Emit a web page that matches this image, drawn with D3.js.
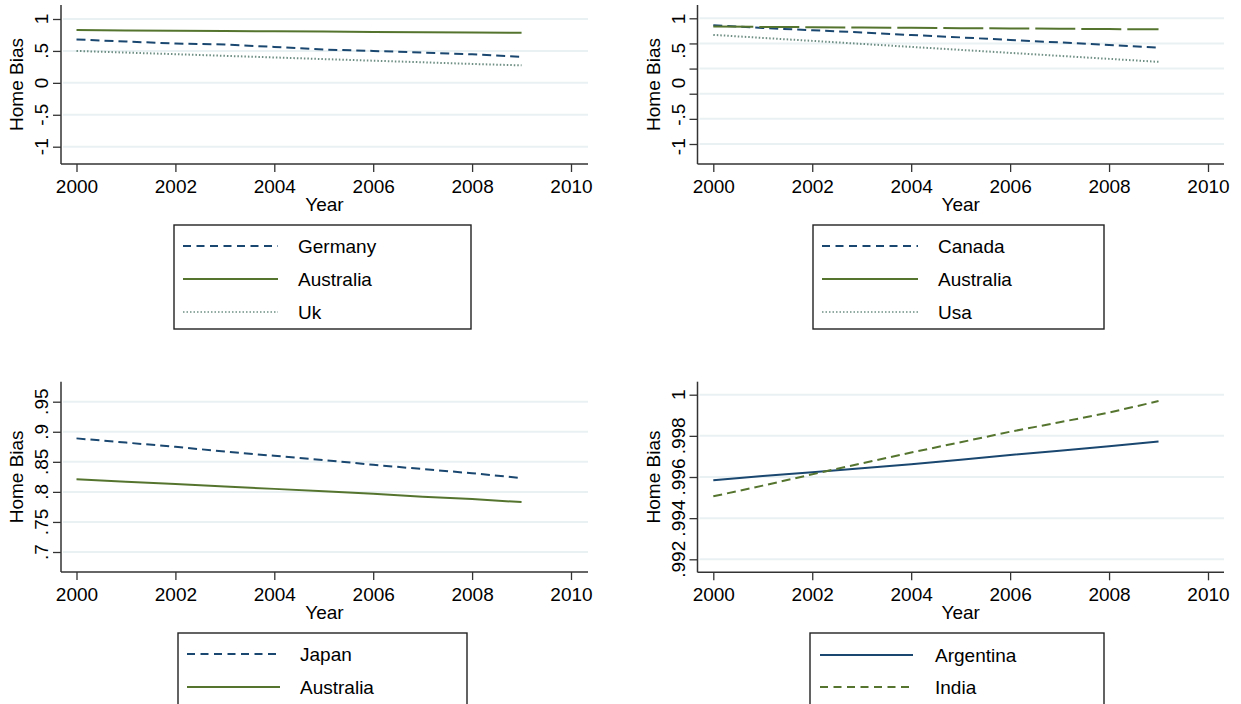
<!DOCTYPE html>
<html><head><meta charset="utf-8">
<script src="https://cdn.jsdelivr.net/npm/d3@7"></script>
<style>body{margin:0;background:#fff}svg{display:block}text{font-family:"Liberation Sans",Arial,sans-serif;fill:#000}</style>
</head><body><svg id="c" width="1241" height="704"></svg>
<script>
// ---------- data ----------
const years = [2000,2001,2002,2003,2004,2005,2006,2007,2008,2009];
const xTickValues = [2000,2002,2004,2006,2008,2010];
// panel 1
const germany    = [0.679,0.647,0.616,0.600,0.563,0.522,0.500,0.474,0.447,0.405];
const australia1 = [0.826,0.821,0.817,0.812,0.807,0.803,0.798,0.793,0.789,0.784];
const uk         = [0.500,0.474,0.449,0.423,0.398,0.372,0.347,0.322,0.296,0.274];
// panel 2
const canada     = [0.860,0.808,0.762,0.718,0.668,0.620,0.568,0.520,0.468,0.414];
const australia2 = [0.835,0.829,0.823,0.817,0.811,0.804,0.798,0.792,0.786,0.780];
const usa        = [0.670,0.610,0.551,0.491,0.431,0.372,0.312,0.253,0.193,0.134];
// panel 3
const japan      = [0.889,0.882,0.875,0.867,0.860,0.853,0.845,0.838,0.831,0.823];
const australia3 = [0.821,0.817,0.813,0.809,0.805,0.801,0.797,0.792,0.788,0.783];
// panel 4
const argentina  = [0.99584,0.99605,0.99623,0.99643,0.99662,0.99684,0.99707,0.99728,0.99750,0.99772];
const india      = [0.99506,0.99558,0.99613,0.99666,0.99719,0.99769,0.99820,0.99866,0.99913,0.99969];
// y tick values and labels
const yTicksA = [1,0.5,0,-0.5,-1];
const yLabelsA = ["1",".5","0","-.5","-1"];
const yGridB = [1,0.5,0,-0.5,-1,-1.5];
const yTicksC = [0.95,0.9,0.85,0.8,0.75,0.7];
const yLabelsC = [".95",".9",".85",".8",".75",".7"];
const yTicksD = [1,0.998,0.996,0.994,0.992];
const yLabelsD = ["1",".998",".996",".994",".992"];

const NAVY="#1a476f", GREEN="#55752f", TEAL="#6e8e84";
const DASH="9,5", DOT="1.5,2", LONG="40,6";

const svg = d3.select("#c");
const FS = 19;

function panel(cfg){
  const g = svg.append("g");
  const x = d3.scaleLinear().domain([2000,2010]).range(cfg.xr);
  const y = d3.scaleLinear().domain(cfg.yd).range(cfg.yr);
  const yl = cfg.labelScale ? d3.scaleLinear().domain(cfg.labelScale.d).range(cfg.labelScale.r) : y;
  // gridlines
  g.append("g").selectAll("line").data(cfg.grid).join("line")
    .attr("x1", cfg.left+2).attr("x2", cfg.right).attr("y1", d=>y(d)).attr("y2", d=>y(d))
    .attr("stroke","#eaf1f3").attr("stroke-width",2);
  // y axis
  const ya = g.append("g").attr("transform",`translate(${cfg.left},0)`)
    .call(d3.axisLeft(y).tickValues(cfg.grid).tickSize(8).tickFormat(""));
  ya.select(".domain").remove();
  ya.selectAll(".tick line").attr("stroke","#333").attr("stroke-width",1.3);
  g.append("line").attr("x1",cfg.left).attr("x2",cfg.left).attr("y1",cfg.top).attr("y2",cfg.bottom)
    .attr("stroke","#333").attr("stroke-width",1.5);
  g.append("g").selectAll("text").data(cfg.ticks).join("text")
    .attr("transform",(d)=>`translate(${cfg.left-13},${yl(d)}) rotate(-90)`)
    .attr("text-anchor","middle").attr("font-size",FS)
    .text((d,i)=>cfg.labels[i]);
  // x axis
  const xa = g.append("g").attr("transform",`translate(0,${cfg.bottom})`)
    .call(d3.axisBottom(x).tickValues(xTickValues).tickSize(8).tickFormat(d3.format("d")));
  xa.select(".domain").remove();
  xa.selectAll(".tick line").attr("stroke","#333").attr("stroke-width",1.3);
  xa.selectAll(".tick text").attr("font-size",FS).attr("dy",null).attr("y",29)
    .attr("font-family","Liberation Sans, Arial, sans-serif").attr("fill","#000");
  g.append("line").attr("x1",cfg.left).attr("x2",cfg.right).attr("y1",cfg.bottom).attr("y2",cfg.bottom)
    .attr("stroke","#333").attr("stroke-width",1.5);
  // axis titles
  g.append("text").attr("x",(cfg.left+cfg.right)/2).attr("y",cfg.bottom+47)
    .attr("text-anchor","middle").attr("font-size",FS).text("Year");
  g.append("text").attr("transform",`translate(${cfg.left-38},${(cfg.top+cfg.bottom)/2}) rotate(-90)`)
    .attr("text-anchor","middle").attr("font-size",FS).text("Home Bias");
  // series
  const line = d3.line().x((d,i)=>x(years[i])).y(d=>y(d));
  cfg.series.forEach(s=>{
    g.append("path").datum(s.values).attr("d",line).attr("fill","none")
      .attr("stroke",s.color).attr("stroke-width",s.w||2)
      .attr("stroke-dasharray",s.dash||null);
  });
  // legend
  const L = cfg.legend;
  g.append("rect").attr("x",L.x).attr("y",L.y).attr("width",L.w).attr("height",L.h)
    .attr("fill","#fff").attr("stroke","#222").attr("stroke-width",1.4);
  L.items.forEach((it,i)=>{
    const cy = L.row0 + i*L.dy;
    g.append("line").attr("x1",L.lx1).attr("x2",L.lx2).attr("y1",cy).attr("y2",cy)
      .attr("stroke",it.color).attr("stroke-width",it.w||2).attr("stroke-dasharray",it.dash||null);
    g.append("text").attr("x",L.tx).attr("y",cy+7).attr("font-size",FS).text(it.name);
  });
}

panel({
  left:61, right:588, top:5, bottom:164, xr:[76.5,571],
  yd:[-1,1], yr:[146.7,19], grid:yTicksA, ticks:yTicksA, labels:yLabelsA,
  series:[
    {values:germany,color:NAVY,dash:DASH},
    {values:australia1,color:GREEN},
    {values:uk,color:TEAL,dash:DOT}
  ],
  legend:{x:174,y:225,w:297,h:104,row0:246,dy:33,lx1:183,lx2:278,tx:298,items:[
    {name:"Germany",color:NAVY,dash:"8,5.5"},
    {name:"Australia",color:GREEN},
    {name:"Uk",color:TEAL,dash:DOT,w:1.5}
  ]}
});
panel({
  left:697.5, right:1224, top:5, bottom:164, xr:[713.3,1208],
  yd:[-1.5,1], yr:[144,18.3], grid:yGridB, ticks:yTicksA, labels:yLabelsA,
  labelScale:{d:[-1,1], r:[146.7,19]},
  series:[
    {values:canada,color:NAVY,dash:DASH},
    {values:australia2,color:GREEN,dash:LONG},
    {values:usa,color:TEAL,dash:DOT}
  ],
  legend:{x:813,y:225,w:291,h:104,row0:246,dy:33,lx1:822,lx2:918,tx:938,items:[
    {name:"Canada",color:NAVY,dash:"8,5.5"},
    {name:"Australia",color:GREEN},
    {name:"Usa",color:TEAL,dash:DOT,w:1.5}
  ]}
});
panel({
  left:61, right:588, top:381.7, bottom:572, xr:[76.5,571],
  yd:[0.7,0.95], yr:[552,401.7], grid:yTicksC, ticks:yTicksC, labels:yLabelsC,
  series:[
    {values:japan,color:NAVY,dash:DASH},
    {values:australia3,color:GREEN}
  ],
  legend:{x:178,y:633,w:289,h:90,row0:654,dy:33,lx1:187,lx2:280,tx:300,items:[
    {name:"Japan",color:NAVY,dash:"8,5.5"},
    {name:"Australia",color:GREEN}
  ]}
});
panel({
  left:697.5, right:1224, top:381.7, bottom:572.3, xr:[713.3,1208],
  yd:[0.992,1], yr:[559.3,394.7], grid:yTicksD, ticks:yTicksD, labels:yLabelsD,
  series:[
    {values:argentina,color:NAVY},
    {values:india,color:GREEN,dash:DASH}
  ],
  legend:{x:810,y:633,w:294,h:90,row0:655,dy:32,lx1:820,lx2:913,tx:935,items:[
    {name:"Argentina",color:NAVY},
    {name:"India",color:GREEN,dash:"8,5.5"}
  ]}
});
</script></body></html>
